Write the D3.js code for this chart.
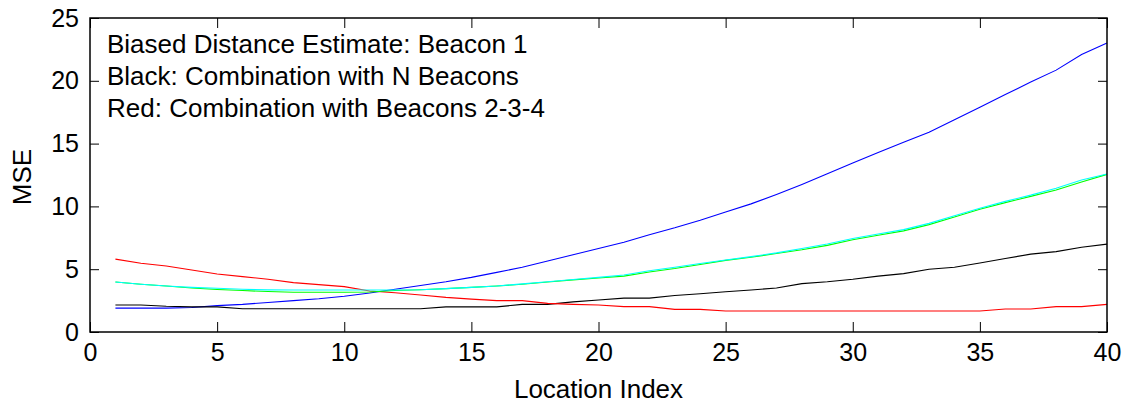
<!DOCTYPE html>
<html>
<head>
<meta charset="utf-8">
<script src="https://cdn.jsdelivr.net/npm/d3@7"></script>
<style>
  html, body { margin: 0; padding: 0; background: #fff; }
  svg text { font-family: Arial, "Liberation Sans", Helvetica, sans-serif; fill: #000; }
</style>
</head>
<body>
<svg id="chart" width="1133" height="406"></svg>
<script>
// ---- data ----
const locationIndex = d3.range(1, 41);
const blueBeacon1 = [1.9,1.9,1.9,1.95,2.1,2.2,2.35,2.5,2.65,2.85,3.1,3.4,3.7,4.0,4.35,4.75,5.15,5.65,6.15,6.65,7.15,7.75,8.3,8.9,9.55,10.2,10.95,11.75,12.6,13.45,14.3,15.1,15.9,16.9,17.9,18.9,19.9,20.85,22.1,23.0];
const blackNBeacons = [2.15,2.15,2.05,2.0,2.0,1.85,1.85,1.85,1.85,1.85,1.85,1.85,1.85,2.0,2.0,2.0,2.2,2.2,2.4,2.55,2.7,2.7,2.9,3.05,3.2,3.35,3.5,3.85,4.0,4.2,4.45,4.65,5.0,5.15,5.5,5.85,6.2,6.4,6.75,7.0];
const redBeacons234 = [5.8,5.47,5.25,4.94,4.62,4.41,4.2,3.93,3.77,3.61,3.26,3.13,2.95,2.76,2.62,2.5,2.5,2.28,2.2,2.15,2.02,2.02,1.8,1.8,1.67,1.67,1.67,1.67,1.67,1.67,1.67,1.67,1.67,1.67,1.67,1.83,1.83,2.02,2.02,2.2];
const greenSeries = [3.98,3.8,3.66,3.5,3.38,3.3,3.22,3.16,3.16,3.16,3.18,3.3,3.36,3.45,3.55,3.66,3.8,3.98,4.15,4.3,4.45,4.78,5.05,5.38,5.7,5.95,6.25,6.55,6.9,7.35,7.7,8.05,8.55,9.15,9.78,10.3,10.8,11.3,11.95,12.55];
const cyanSeries = [3.98,3.8,3.66,3.55,3.48,3.4,3.35,3.34,3.34,3.34,3.34,3.34,3.36,3.45,3.55,3.66,3.83,4.0,4.18,4.35,4.54,4.88,5.15,5.45,5.73,6.0,6.3,6.65,7.0,7.45,7.8,8.15,8.65,9.25,9.85,10.4,10.9,11.45,12.1,12.58];
const xTicks = [0,5,10,15,20,25,30,35,40];
const yTicks = [0,5,10,15,20,25];
const annotations = ["Biased Distance Estimate: Beacon 1", "Black: Combination with N Beacons", "Red: Combination with Beacons 2-3-4"];
const xLabel = "Location Index";
const yLabel = "MSE";

// ---- layout ----
const L = 90, R = 1107, T = 18, B = 332;
const svg = d3.select("#chart");
const x = d3.scaleLinear().domain([0, 40]).range([L, R]);
const y = d3.scaleLinear().domain([0, 25]).range([B, T]);

const series = [
  { values: blueBeacon1, color: "#0000ff" },
  { values: blackNBeacons, color: "#000000" },
  { values: redBeacons234, color: "#ff0000" },
  { values: greenSeries, color: "#00ff00" },
  { values: cyanSeries, color: "#00ffff" }
];

const line = d3.line().x((d, i) => x(locationIndex[i])).y(d => y(d));
svg.append("g").selectAll("path").data(series).join("path")
  .attr("d", d => line(d.values))
  .attr("fill", "none")
  .attr("stroke", d => d.color)
  .attr("stroke-width", 1.1);

// axes (MATLAB style: inward ticks, boxed)
const tickX = 10, tickY = 9;
svg.append("g").attr("transform", `translate(0,${B})`)
  .call(d3.axisBottom(x).tickValues(xTicks).tickSize(-tickX).tickPadding(14).tickFormat(d3.format("d")))
  .call(g => g.select(".domain").remove())
  .call(g => g.selectAll("line").attr("stroke", "#000"))
  .call(g => g.selectAll("text").attr("font-size", 25).attr("font-family", "Arial, 'Liberation Sans', sans-serif").attr("dy", "0.71em").attr("y", 11));
svg.append("g").attr("transform", `translate(0,${T})`)
  .call(d3.axisTop(x).tickValues(xTicks).tickSize(-tickX).tickFormat(""))
  .call(g => g.select(".domain").remove())
  .call(g => g.selectAll("line").attr("stroke", "#000"));
svg.append("g").attr("transform", `translate(${L},0)`)
  .call(d3.axisLeft(y).tickValues(yTicks).tickSize(-tickY).tickPadding(11).tickFormat(d3.format("d")))
  .call(g => g.select(".domain").remove())
  .call(g => g.selectAll("line").attr("stroke", "#000"))
  .call(g => g.selectAll("text").attr("font-size", 25).attr("font-family", "Arial, 'Liberation Sans', sans-serif").attr("x", -11));
svg.append("g").attr("transform", `translate(${R},0)`)
  .call(d3.axisRight(y).tickValues(yTicks).tickSize(-tickY).tickFormat(""))
  .call(g => g.select(".domain").remove())
  .call(g => g.selectAll("line").attr("stroke", "#000"));

svg.append("rect")
  .attr("x", L).attr("y", T).attr("width", R - L).attr("height", B - T)
  .attr("fill", "none").attr("stroke", "#000").attr("stroke-width", 1.5);

// annotation text
svg.append("g").selectAll("text").data(annotations).join("text")
  .attr("x", 107).attr("y", (d, i) => 53 + i * 32)
  .attr("font-size", 26)
  .text(d => d);

// axis labels
svg.append("text").attr("x", (L + R) / 2).attr("y", 398)
  .attr("text-anchor", "middle").attr("font-size", 26).text(xLabel);
svg.append("text").attr("transform", "translate(31,177) rotate(-90)")
  .attr("text-anchor", "middle").attr("font-size", 26).text(yLabel);
</script>
</body>
</html>
